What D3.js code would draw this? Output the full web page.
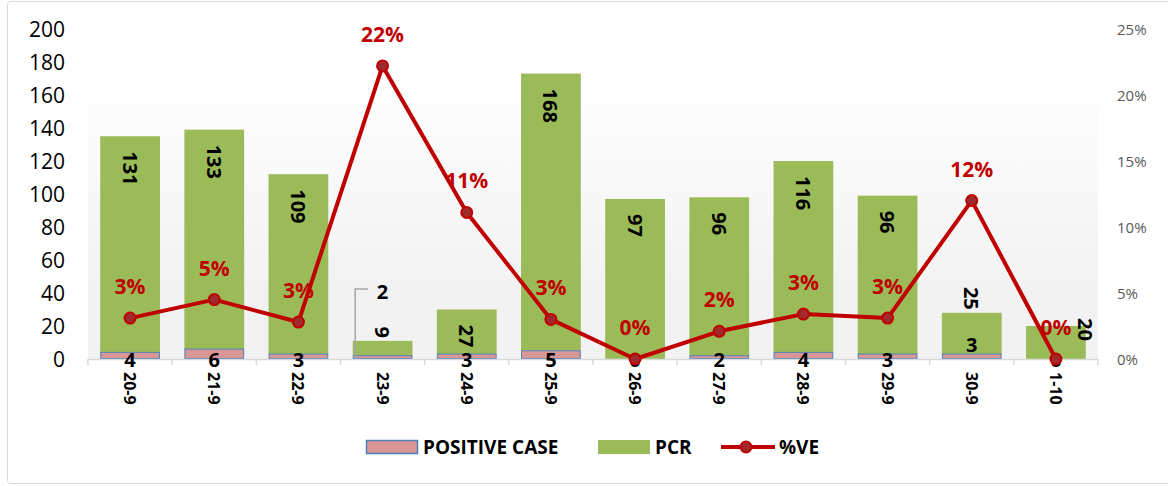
<!DOCTYPE html>
<html>
<head>
<meta charset="utf-8">
<script src="https://cdn.jsdelivr.net/npm/d3@7"></script>
<style>
  body { margin: 0; background: #fff; }
  svg { display: block; font-family: "Open Sans", "Noto Sans", sans-serif; }
</style>
</head>
<body>
<svg></svg>
<script>
// chart data
const dates = ['20-9', '21-9', '22-9', '23-9', '24-9', '25-9', '26-9', '27-9', '28-9', '29-9', '30-9', '1-10'];
const positive = [4, 6, 3, 2, 3, 5, 0, 2, 4, 3, 3, 0];
const pcr = [131, 133, 109, 9, 27, 168, 97, 96, 116, 96, 25, 20];
const ve = [3.1, 4.5, 2.8, 22.2, 11.1, 3.0, 0, 2.1, 3.4, 3.1, 12.0, 0];
const veLabels = ['3%', '5%', '3%', '22%', '11%', '3%', '0%', '2%', '3%', '3%', '12%', '0%'];
const leftTicks = [0, 20, 40, 60, 80, 100, 120, 140, 160, 180, 200];
const rightTicks = [0, 5, 10, 15, 20, 25];
// where excel put the data labels
const pcrLabelPos = ['in', 'in', 'in', 'above', 'in', 'in', 'in', 'in', 'in', 'in', 'above', 'right'];
const posLabelPos = ['base', 'base', 'base', 'callout', 'base', 'base', 'base', 'base', 'base', 'base', 'lifted', 'base'];

const size = {w: 1168, h: 486};
const plot = {l: 88, r: 1098, t: 29, b: 359};
const svg = d3.select('svg').attr('width', size.w).attr('height', size.h);

const rows = dates.map((d, i) => ({date: d, pos: positive[i], pcr: pcr[i], ve: ve[i], i: i}));

// outer border
svg.append('rect')
    .attr('x', 7.5).attr('y', 1.5)
    .attr('width', 1180).attr('height', 482)
    .attr('rx', 3)
    .attr('fill', '#fff')
    .attr('stroke', '#d9d9d9');

// plot area gradient
const defs = svg.append('defs');
const grad = defs.append('linearGradient').attr('id', 'bg')
    .attr('x1', 0).attr('x2', 0).attr('y1', 0).attr('y2', 1);
grad.append('stop').attr('offset', '0%').attr('stop-color', '#ffffff');
grad.append('stop').attr('offset', '75%').attr('stop-color', '#f2f2f2');
grad.append('stop').attr('offset', '100%').attr('stop-color', '#f2f2f2');

svg.append('rect')
    .attr('x', plot.l).attr('y', 72)
    .attr('width', plot.r - plot.l).attr('height', plot.b - 72)
    .attr('fill', 'url(#bg)');

// scales
const x = d3.scaleBand().domain(dates).range([plot.l, plot.r])
    .paddingInner(0.29).paddingOuter(0.145);
const y = d3.scaleLinear().domain([0, 200]).range([plot.b, plot.t]);
const yR = d3.scaleLinear().domain([0, 25]).range([plot.b, plot.t]);
const cx = d => x(d.date) + x.bandwidth() / 2;

// left axis labels
svg.append('g').selectAll('text')
    .data(leftTicks).join('text')
    .attr('x', 65).attr('y', d => y(d))
    .attr('text-anchor', 'end')
    .attr('dominant-baseline', 'central')
    .attr('font-size', 21)
    .attr('fill', '#000')
    .text(d => d);

// right axis labels
svg.append('g').selectAll('text')
    .data(rightTicks).join('text')
    .attr('x', 1117).attr('y', d => yR(d))
    .attr('dominant-baseline', 'central')
    .attr('font-size', 15)
    .attr('fill', '#595959')
    .text(d => d + '%');

// bars: PCR stacked on top of positive cases
const barsG = svg.append('g');
barsG.selectAll('rect.pcr')
    .data(rows).join('rect').classed('pcr', true)
    .attr('x', d => x(d.date))
    .attr('y', d => y(d.pos + d.pcr))
    .attr('width', x.bandwidth())
    .attr('height', d => y(d.pos) - y(d.pos + d.pcr))
    .attr('fill', '#9bbb59');

barsG.selectAll('rect.pos')
    .data(rows.filter(d => d.pos > 0)).join('rect').classed('pos', true)
    .attr('x', d => x(d.date) + 0.5)
    .attr('y', d => y(d.pos))
    .attr('width', x.bandwidth() - 1)
    .attr('height', d => y(0) - y(d.pos) - 0.5)
    .attr('fill', '#d99694')
    .attr('stroke', '#4f81bd')
    .attr('stroke-width', 1);

// x axis line and ticks
const axisG = svg.append('g');
axisG.append('line')
    .attr('x1', plot.l).attr('x2', plot.r)
    .attr('y1', plot.b + 0.5).attr('y2', plot.b + 0.5)
    .attr('stroke', '#d9d9d9').attr('stroke-width', 1.5);
axisG.selectAll('line.tick')
    .data(d3.range(dates.length + 1)).join('line').classed('tick', true)
    .attr('x1', i => plot.l + i * x.step())
    .attr('x2', i => plot.l + i * x.step())
    .attr('y1', plot.b).attr('y2', plot.b + 6)
    .attr('stroke', '#d9d9d9').attr('stroke-width', 1.5);

// x labels, rotated
axisG.selectAll('text')
    .data(rows).join('text')
    .attr('transform', d => `translate(${cx(d)},${plot.b + 13}) rotate(90)`)
    .attr('dominant-baseline', 'central')
    .attr('font-size', 16)
    .attr('font-weight', 'bold')
    .text(d => d.date);

// PCR labels
const labG = svg.append('g').attr('font-weight', 'bold').attr('font-size', 20);
labG.selectAll('text.pcr')
    .data(rows).join('text').classed('pcr', true)
    .attr('transform', d => {
        const top = y(d.pos + d.pcr);
        const mode = pcrLabelPos[d.i];
        if (mode === 'above') return `translate(${cx(d)},${top - 3}) rotate(90)`;
        if (mode === 'right') return `translate(${x(d.date) + x.bandwidth()},${top - 8}) rotate(90)`;
        return `translate(${cx(d)},${top + 15}) rotate(90)`;
    })
    .attr('text-anchor', d => pcrLabelPos[d.i] === 'above' ? 'end' : 'start')
    .attr('dominant-baseline', 'central')
    .text(d => d.pcr);

// positive labels
labG.selectAll('text.pos')
    .data(rows).join('text').classed('pos', true)
    .attr('x', d => cx(d))
    .attr('y', d => {
        const mode = posLabelPos[d.i];
        if (mode === 'callout') return y(0) - 68;
        if (mode === 'lifted') return y(0) - 15;
        return y(0);
    })
    .attr('text-anchor', 'middle')
    .attr('dominant-baseline', 'central')
    .text(d => d.pos);

// callout leader
rows.filter(d => posLabelPos[d.i] === 'callout').forEach(d => {
    const lx = x(d.date) + 2.5;
    const ly = y(0) - 70;
    labG.append('path')
        .attr('d', `M${lx},${y(0) - 2}V${ly}H${lx + 13}`)
        .attr('fill', 'none')
        .attr('stroke', '#a6a6a6')
        .attr('stroke-width', 1.5);
});

// %VE line
const line = d3.line().x(d => cx(d)).y(d => yR(d.ve));
svg.append('path')
    .datum(rows)
    .attr('d', line)
    .attr('fill', 'none')
    .attr('stroke', '#c00000')
    .attr('stroke-width', 4)
    .attr('stroke-linejoin', 'round');

svg.append('g').selectAll('circle')
    .data(rows).join('circle')
    .attr('cx', d => cx(d))
    .attr('cy', d => yR(d.ve))
    .attr('r', 5.5)
    .attr('fill', '#a0292e')
    .attr('stroke', '#c00000')
    .attr('stroke-width', 2);

svg.append('g').selectAll('text')
    .data(rows).join('text')
    .attr('x', d => cx(d))
    .attr('y', d => yR(d.ve) - 32)
    .attr('text-anchor', 'middle')
    .attr('dominant-baseline', 'central')
    .attr('font-size', 21)
    .attr('font-weight', 'bold')
    .attr('fill', '#c00000')
    .text(d => veLabels[d.i]);

// legend
const leg = svg.append('g').attr('font-size', 19).attr('font-weight', 'bold');
leg.append('rect')
    .attr('x', 366.5).attr('y', 440.5).attr('width', 51).attr('height', 13)
    .attr('fill', '#d99694').attr('stroke', '#4f81bd').attr('stroke-width', 1.5);
leg.append('text').attr('x', 423).attr('y', 447).attr('dominant-baseline', 'central')
    .text('POSITIVE CASE');
leg.append('rect')
    .attr('x', 598).attr('y', 440).attr('width', 52).attr('height', 14)
    .attr('fill', '#9bbb59');
leg.append('text').attr('x', 655).attr('y', 447).attr('dominant-baseline', 'central')
    .text('PCR');
leg.append('line')
    .attr('x1', 721).attr('x2', 775).attr('y1', 447).attr('y2', 447)
    .attr('stroke', '#c00000').attr('stroke-width', 4);
leg.append('circle')
    .attr('cx', 746).attr('cy', 447).attr('r', 5.5)
    .attr('fill', '#a0292e').attr('stroke', '#c00000').attr('stroke-width', 2);
leg.append('text').attr('x', 779).attr('y', 447).attr('dominant-baseline', 'central')
    .text('%VE');
</script>
</body>
</html>
